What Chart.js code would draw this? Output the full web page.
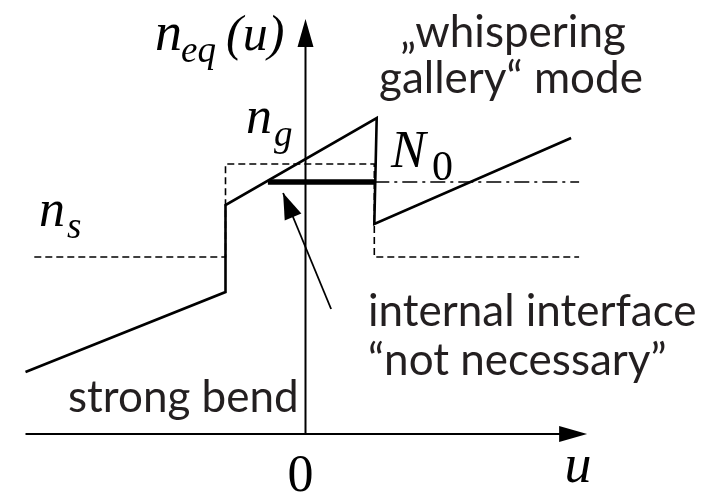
<!DOCTYPE html>
<html>
<head>
<meta charset="utf-8">
<script src="https://cdn.jsdelivr.net/npm/chart.js@4/dist/chart.umd.min.js"></script>
<style>
  html, body { margin: 0; padding: 0; background: #fff; }
  #wrap { width: 718px; height: 493px; position: relative; }
</style>
</head>
<body>
<div id="wrap"><canvas id="c"></canvas></div>
<script>
// Equivalent index profile n_eq(u) of a strongly bent waveguide
const profileU = [-3.5, -1.0, -1.0, 0.89, 0.86, 3.32];
const profileN = [0.62, 1.42, 2.29, 3.16, 2.10, 2.96];

// Straight-guide step profile: substrate n_s, guide n_g
const stepU = [-3.39, -1.0, -1.0, 0.86, 0.86, 3.42];
const stepN = [1.77, 1.77, 2.70, 2.70, 1.77, 1.77];

// Effective index N_0 of the whispering gallery mode
const modeN0 = 2.52;
const modeU = [-0.47, 0.86];     // region where the mode is guided
const levelU = [0.86, 3.42];     // reference level continued to the right

// Axes extents
const uAxisRange = [-3.5, 3.52];
const nAxisTop = 4.15;

// Pointer to the guided region (tail, head)
const pointerU = [0.32, -0.28];
const pointerN = [1.25, 2.41];

const tickLabels = ['0'];

const toXY = (us, ns) => us.map((u, i) => ({ x: u, y: ns[i] }));

const SERIF = '"Liberation Serif", "Times New Roman", serif';
const SANS = 'Lato, "Open Sans", sans-serif';

function arrowHead(ctx, fx, fy, tx, ty, len, half) {
  const a = Math.atan2(ty - fy, tx - fx);
  const bx = tx - len * Math.cos(a), by = ty - len * Math.sin(a);
  const nx = -Math.sin(a), ny = Math.cos(a);
  ctx.beginPath();
  ctx.moveTo(tx, ty);
  ctx.lineTo(bx + nx * half, by + ny * half);
  ctx.lineTo(bx - nx * half, by - ny * half);
  ctx.closePath();
  ctx.fill();
}

const decorations = {
  id: 'decorations',
  afterDraw(chart) {
    const { ctx, scales: { x, y } } = chart;
    const px = v => x.getPixelForValue(v);
    const py = v => y.getPixelForValue(v);
    ctx.save();
    ctx.fillStyle = '#000';

    // axis arrowheads
    arrowHead(ctx, px(0), py(0), px(0), py(nAxisTop), 28, 8);
    arrowHead(ctx, px(0), py(0), px(uAxisRange[1]), py(0), 28, 8);
    // pointer arrowhead
    arrowHead(ctx, px(pointerU[0]), py(pointerN[0]), px(pointerU[1]), py(pointerN[1]), 26, 9);

    // math labels
    const serifI = s => 'italic ' + s + 'px ' + SERIF;
    const serif = s => s + 'px ' + SERIF;
    ctx.textBaseline = 'alphabetic';
    ctx.textAlign = 'left';

    ctx.font = serifI(54); ctx.fillText('n', 155, 50);
    ctx.font = serifI(37); ctx.fillText('eq', 181, 62);
    ctx.font = serifI(50); ctx.fillText('(u)', 226, 50);

    ctx.font = serifI(52); ctx.fillText('n', 246, 133);
    ctx.font = serifI(37); ctx.fillText('g', 274, 146);

    ctx.font = serifI(52); ctx.fillText('n', 39, 226);
    ctx.font = serifI(37); ctx.fillText('s', 67, 238);

    ctx.font = serifI(52); ctx.fillText('N', 391, 167);
    ctx.font = serif(42); ctx.fillText('0', 432, 180);

    ctx.textAlign = 'center';
    ctx.font = serif(52); ctx.fillText(tickLabels[0], px(0) - 5, 491);
    ctx.font = serifI(54); ctx.fillText('u', 578, 482);

    // descriptive text
    ctx.fillStyle = '#231f20';
    ctx.font = '44px ' + SANS;
    ctx.textAlign = 'center';
    ctx.fillText('\u201Ewhispering', 513, 47);
    ctx.fillText('gallery\u201C mode', 511, 93);
    ctx.textAlign = 'left';
    ctx.fillText('internal interface', 368, 326);
    ctx.fillText('\u201Cnot necessary\u201D', 368, 375);
    ctx.fillText('strong bend', 68, 412);
    ctx.restore();
  }
};

const black = '#000';
new Chart(document.getElementById('c'), {
  type: 'line',
  data: {
    datasets: [
      { data: toXY(profileU, profileN), borderColor: black, borderWidth: 2.6 },
      { data: toXY(modeU, modeU.map(() => modeN0)), borderColor: black, borderWidth: 5.5, borderCapStyle: 'butt' },
      { data: toXY(levelU, levelU.map(() => modeN0)), borderColor: black, borderWidth: 1.6, borderDash: [15, 5, 3, 5] },
      { data: toXY(stepU, stepN), borderColor: black, borderWidth: 1.6, borderDash: [7, 4] },
      { data: toXY(pointerU, pointerN), borderColor: black, borderWidth: 1.8 },
      { data: toXY([0, 0], [0, nAxisTop - 0.1]), borderColor: black, borderWidth: 2 },
      { data: toXY([uAxisRange[0], uAxisRange[1] - 0.1], [0, 0]), borderColor: black, borderWidth: 2 }
    ]
  },
  options: {
    responsive: true,
    maintainAspectRatio: false,
    animation: false,
    layout: { padding: 0 },
    elements: {
      point: { radius: 0, hoverRadius: 0 },
      line: { tension: 0, borderJoinStyle: 'miter', fill: false }
    },
    datasets: { line: { clip: false } },
    plugins: { legend: { display: false }, tooltip: { enabled: false } },
    events: [],
    scales: {
      x: { type: 'linear', min: -305.5 / 80, max: (718 - 305.5) / 80, display: false },
      y: { type: 'linear', min: (434 - 493) / 100, max: 4.34, display: false }
    }
  },
  plugins: [decorations]
});
</script>
</body>
</html>
